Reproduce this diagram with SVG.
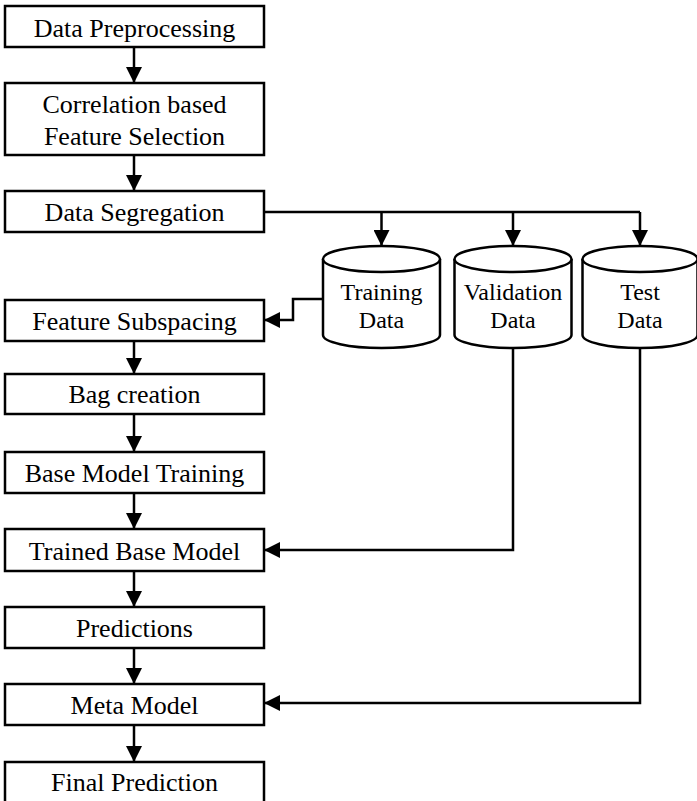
<svg xmlns="http://www.w3.org/2000/svg" width="697" height="801" viewBox="0 0 697 801">
<style>
.box{fill:#fff;stroke:#000;stroke-width:2.5}
.t{font-family:"Liberation Serif","Times New Roman",serif;font-size:26px;fill:#000;text-anchor:middle}
.c{font-family:"Liberation Serif","Times New Roman",serif;font-size:24px;fill:#000;text-anchor:middle}
.ln{fill:none;stroke:#000;stroke-width:2.5}
.cyl{fill:#fff;stroke:#000;stroke-width:2.5}
</style>
<defs>
<marker id="ah" viewBox="0 0 16 16" refX="16" refY="8" markerWidth="16" markerHeight="16" markerUnits="userSpaceOnUse" orient="auto">
<path d="M0,0 L16,8 L0,16 Z" fill="#000"/>
</marker>
</defs>
<rect width="697" height="801" fill="#fff"/>
<g id="n1"><rect class="box" x="5" y="6" width="259" height="41"/><text class="t" x="134.5" y="37">Data Preprocessing</text></g>
<g id="n2"><rect class="box" x="5" y="83" width="259" height="72"/><text class="t" x="134.5" y="113">Correlation based</text><text class="t" x="134.5" y="145">Feature Selection</text></g>
<g id="n3"><rect class="box" x="5" y="191" width="259" height="41"/><text class="t" x="134.5" y="221">Data Segregation</text></g>
<g id="n4"><rect class="box" x="5" y="300" width="259" height="41"/><text class="t" x="134.5" y="330">Feature Subspacing</text></g>
<g id="n5"><rect class="box" x="5" y="374" width="259" height="40"/><text class="t" x="134.5" y="403">Bag creation</text></g>
<g id="n6"><rect class="box" x="5" y="452" width="259" height="41"/><text class="t" x="134.5" y="482">Base Model Training</text></g>
<g id="n7"><rect class="box" x="5" y="529" width="259" height="42"/><text class="t" x="134.5" y="560">Trained Base Model</text></g>
<g id="n8"><rect class="box" x="5" y="607" width="259" height="41"/><text class="t" x="134.5" y="637">Predictions</text></g>
<g id="n9"><rect class="box" x="5" y="684" width="259" height="41"/><text class="t" x="134.5" y="714">Meta Model</text></g>
<g id="n10"><rect class="box" x="5" y="762" width="259" height="42"/><text class="t" x="134.5" y="791">Final Prediction</text></g>
<g id="training">
<path class="cyl" d="M323,259 L323,335 A58.5,13 0 0 0 440,335 L440,259"/>
<ellipse class="cyl" cx="381.5" cy="259" rx="58.5" ry="13"/>
<text class="c" x="381.5" y="300">Training</text><text class="c" x="381.5" y="328">Data</text>
</g>
<g id="validation">
<path class="cyl" d="M454.5,259 L454.5,335 A58.5,13 0 0 0 571.5,335 L571.5,259"/>
<ellipse class="cyl" cx="513" cy="259" rx="58.5" ry="13"/>
<text class="c" x="513" y="300">Validation</text><text class="c" x="513" y="328">Data</text>
</g>
<g id="test">
<path class="cyl" d="M582.5,259 L582.5,335 A57.5,13 0 0 0 697.5,335 L697.5,259"/>
<ellipse class="cyl" cx="640" cy="259" rx="57.5" ry="13"/>
<text class="c" x="640" y="300">Test</text><text class="c" x="640" y="328">Data</text>
</g>
<g id="connectors">
<path class="ln" d="M134,47 L134,83" marker-end="url(#ah)"/>
<path class="ln" d="M134,155 L134,191" marker-end="url(#ah)"/>
<path class="ln" d="M134,341 L134,374" marker-end="url(#ah)"/>
<path class="ln" d="M134,414 L134,452" marker-end="url(#ah)"/>
<path class="ln" d="M134,493 L134,529" marker-end="url(#ah)"/>
<path class="ln" d="M134,571 L134,607" marker-end="url(#ah)"/>
<path class="ln" d="M134,648 L134,684" marker-end="url(#ah)"/>
<path class="ln" d="M134,725 L134,762" marker-end="url(#ah)"/>
<path class="ln" d="M264,212 L640,212"/>
<path class="ln" d="M381.5,212 L381.5,246" marker-end="url(#ah)"/>
<path class="ln" d="M513,212 L513,246" marker-end="url(#ah)"/>
<path class="ln" d="M640,212 L640,246" marker-end="url(#ah)"/>
<path class="ln" d="M323,299 L293,299 L293,320 L264,320" marker-end="url(#ah)"/>
<path class="ln" d="M513,348 L513,550 L264,550" marker-end="url(#ah)"/>
<path class="ln" d="M640,348 L640,703 L264,703" marker-end="url(#ah)"/>
</g>
</svg>
